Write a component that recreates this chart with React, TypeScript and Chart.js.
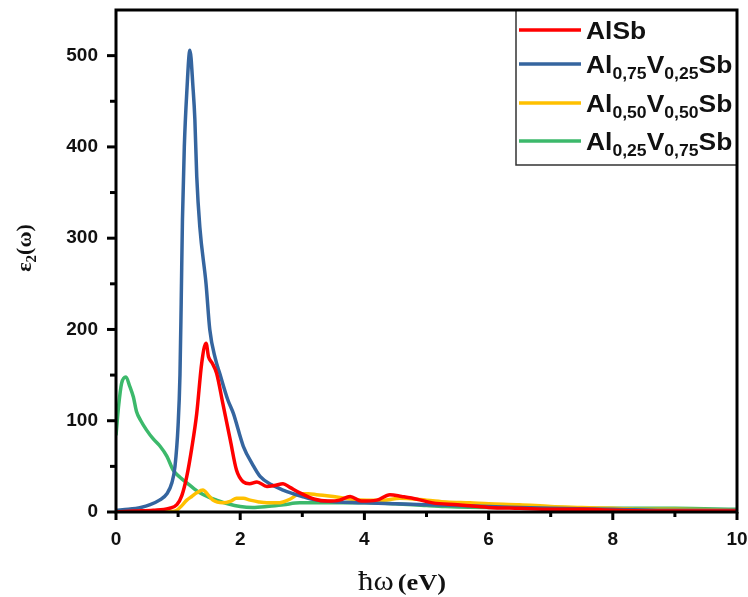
import React, { useEffect, useRef } from "react";
import { Chart, registerables } from "chart.js";

Chart.register(...registerables);

// ---- data ----
const seriesNames = ["AlSb", "Al0.75V0.25Sb", "Al0.50V0.50Sb", "Al0.25V0.75Sb"];

const alsbX = [0, 0.3, 0.6, 0.85, 0.98, 1.06, 1.14, 1.22, 1.3, 1.38, 1.45, 1.49, 1.55, 1.62, 1.72, 1.84, 1.94, 2.05, 2.15, 2.27, 2.43, 2.55, 2.69, 2.8, 2.96, 3.2, 3.4, 3.6, 3.77, 3.95, 4.2, 4.41, 4.6, 4.85, 5.1, 5.5, 6.0, 6.5, 7.0, 7.5, 8.0, 9.0, 10];
const alsbY = [0, 1, 2, 4, 8, 18, 39, 70, 108, 163, 185, 170, 163, 152, 119, 79, 46, 33, 31, 33, 28, 29, 31, 27, 21, 14, 12, 13, 17, 12, 13, 19, 17, 14, 10, 8, 5, 4, 3, 3, 2, 1, 1];

const v25X = [0, 0.2, 0.4, 0.55, 0.7, 0.82, 0.9, 0.95, 1.0, 1.03, 1.05, 1.07, 1.1, 1.14, 1.19, 1.24, 1.27, 1.3, 1.35, 1.45, 1.51, 1.6, 1.67, 1.8, 1.89, 2.05, 2.2, 2.32, 2.5, 2.69, 3.0, 3.23, 3.6, 4.0, 4.5, 5.0, 5.5, 6.0, 7.0, 8.0, 9.0, 10];
const v25Y = [2, 3, 5, 8, 13, 20, 32, 50, 95, 150, 230, 320, 400, 460, 506, 465, 430, 368, 312, 250, 200, 168, 152, 123, 108, 72, 52, 39, 30, 24, 17, 13, 11, 10, 9, 8, 7, 6, 4, 3, 2, 2];

const v50X = [0, 0.5, 0.9, 0.98, 1.06, 1.14, 1.22, 1.3, 1.4, 1.48, 1.56, 1.72, 1.85, 1.94, 2.05, 2.16, 2.3, 2.43, 2.6, 2.69, 2.8, 2.96, 3.1, 3.23, 3.5, 3.8, 4.04, 4.3, 4.57, 5.0, 5.32, 5.7, 6.0, 6.5, 7.0, 7.5, 8.0, 8.5, 9.0, 10];
const v50Y = [0, 0, 0.5, 2, 7, 13, 17, 21, 24, 19, 13, 10, 12, 15, 15, 13, 11, 10, 10, 11, 14, 20, 20, 19, 17, 14, 13, 13, 15, 13, 11, 10, 9, 8, 6, 5, 4, 3, 3, 2];

const v75X = [0, 0.04, 0.09, 0.16, 0.22, 0.28, 0.33, 0.4, 0.49, 0.6, 0.71, 0.82, 0.92, 1.03, 1.14, 1.25, 1.35, 1.5, 1.62, 1.8, 2.0, 2.2, 2.43, 2.7, 2.96, 3.3, 3.6, 4.04, 4.5, 5.0, 5.3, 6.0, 7.0, 8.0, 9.0, 10];
const v75Y = [84, 115, 141, 148, 138, 126, 110, 100, 90, 80, 72, 61, 46, 38, 32, 26, 21, 16, 13, 9, 6, 5, 6, 8, 10, 10, 10, 10, 9, 7, 6, 5, 5, 4, 4, 3];

const xMajorTicks = [0, 2, 4, 6, 8, 10];
const xMinorTicks = [1, 3, 5, 7, 9];
const yMajorTicks = [0, 100, 200, 300, 400, 500];
const yMinorTicks = [50, 150, 250, 350, 450];

const colors = ["#ff0000", "#35659f", "#ffc000", "#3cb96b"];

// legend labels split into [text, isSubscript] pieces
const legendParts: [string, boolean][][] = [
  [["AlSb", false]],
  [["Al", false], ["0,75", true], ["V", false], ["0,25", true], ["Sb", false]],
  [["Al", false], ["0,50", true], ["V", false], ["0,50", true], ["Sb", false]],
  [["Al", false], ["0,25", true], ["V", false], ["0,75", true], ["Sb", false]],
];

function toPoints(xs: number[], ys: number[]) {
  return xs.map((x, i) => ({ x, y: ys[i] }));
}

function drawStretched(ctx: CanvasRenderingContext2D, t: string, x: number, y: number, s: number) {
  ctx.save();
  ctx.translate(x, y);
  ctx.scale(s, 1);
  ctx.fillText(t, 0, 0);
  ctx.restore();
  return ctx.measureText(t).width * s;
}

function noPad(s: any) {
  s.paddingTop = 0;
  s.paddingBottom = 0;
  s.paddingLeft = 0;
  s.paddingRight = 0;
}

const decor = {
  id: "decor",
  afterDatasetsDraw(chart: any) {
    const { ctx, chartArea: a, scales } = chart;
    const xs = scales.x;
    const ys = scales.y;
    ctx.save();
    ctx.strokeStyle = "#000";
    ctx.lineCap = "butt";

    // ticks
    ctx.lineWidth = 3;
    for (const v of xMajorTicks) {
      const px = xs.getPixelForValue(v);
      ctx.beginPath(); ctx.moveTo(px, a.bottom); ctx.lineTo(px, a.bottom + 8); ctx.stroke();
    }
    for (const v of xMinorTicks) {
      const px = xs.getPixelForValue(v);
      ctx.beginPath(); ctx.moveTo(px, a.bottom); ctx.lineTo(px, a.bottom + 5); ctx.stroke();
    }
    for (const v of yMajorTicks) {
      const py = ys.getPixelForValue(v);
      ctx.beginPath(); ctx.moveTo(a.left, py); ctx.lineTo(a.left - 9, py); ctx.stroke();
    }
    for (const v of yMinorTicks) {
      const py = ys.getPixelForValue(v);
      ctx.beginPath(); ctx.moveTo(a.left, py); ctx.lineTo(a.left - 6, py); ctx.stroke();
    }

    // legend box
    const lx = 516, lb = 165;
    ctx.fillStyle = "#fff";
    ctx.fillRect(lx, a.top, a.right - lx, lb - a.top);
    ctx.strokeStyle = "#333";
    ctx.lineWidth = 1.5;
    ctx.beginPath(); ctx.moveTo(lx, a.top); ctx.lineTo(lx, lb); ctx.lineTo(a.right, lb); ctx.stroke();

    const lineYs = [30, 64, 103, 141];
    for (let i = 0; i < seriesNames.length; i++) {
      const ly = lineYs[i];
      ctx.strokeStyle = colors[i];
      ctx.lineWidth = 3.5;
      ctx.beginPath(); ctx.moveTo(519, ly); ctx.lineTo(581, ly); ctx.stroke();
      ctx.fillStyle = "#111";
      ctx.textBaseline = "alphabetic";
      ctx.textAlign = "left";
      let tx = 586;
      for (const [t, sub] of legendParts[i]) {
        ctx.font = sub ? "bold 16px 'Liberation Sans', Arial, sans-serif" : "bold 24px 'Liberation Sans', Arial, sans-serif";
        tx += drawStretched(ctx, t, tx, ly + (sub ? 14.5 : 9), 1.1);
      }
    }

    // frame
    ctx.strokeStyle = "#000";
    ctx.lineWidth = 3;
    ctx.strokeRect(a.left, a.top, a.right - a.left, a.bottom - a.top);

    // y title: ε2(ω)
    ctx.save();
    ctx.translate(24, 248);
    ctx.rotate(-Math.PI / 2);
    ctx.fillStyle = "#111";
    ctx.textAlign = "left";
    ctx.textBaseline = "alphabetic";
    const fMain = "bold 22px 'Liberation Serif', 'Times New Roman', serif";
    const fSub = "bold 15px 'Liberation Serif', 'Times New Roman', serif";
    ctx.font = fMain; const w1 = ctx.measureText("\u03b5").width;
    ctx.font = fSub; const w2 = ctx.measureText("2").width;
    ctx.font = fMain; const w3 = ctx.measureText("(\u03c9)").width;
    let sx = -(w1 + w2 + w3) / 2;
    ctx.font = fMain; ctx.fillText("\u03b5", sx, 7); sx += w1;
    ctx.font = fSub; ctx.fillText("2", sx, 12); sx += w2;
    ctx.font = fMain; ctx.fillText("(\u03c9)", sx, 7);
    ctx.restore();

    // x title: ħω (eV)
    ctx.fillStyle = "#111";
    ctx.textAlign = "left";
    ctx.textBaseline = "alphabetic";
    let xx = 358;
    ctx.font = "28px 'Liberation Serif', 'Times New Roman', serif";
    xx += drawStretched(ctx, "\u0127\u03c9", xx, 590, 1.1);
    xx += 4;
    ctx.font = "bold 24px 'Liberation Serif', 'Times New Roman', serif";
    drawStretched(ctx, "(eV)", xx, 590, 1.1);

    ctx.restore();
  },
};

export default function App() {
  const ref = useRef<HTMLCanvasElement | null>(null);
  useEffect(() => {
    document.body.style.margin = "0";
    const canvas = ref.current;
    if (!canvas) return;
    const datasets = [
      [alsbX, alsbY],
      [v25X, v25Y],
      [v50X, v50Y],
      [v75X, v75Y],
    ].map(([xs, ys], i) => ({
      label: seriesNames[i],
      data: toPoints(xs as number[], ys as number[]),
      borderColor: colors[i],
      backgroundColor: colors[i],
      borderWidth: 3.5,
      pointRadius: 0,
      cubicInterpolationMode: "monotone" as const,
      fill: false,
    }));
    const tickFont = { family: "'Liberation Sans', Arial, sans-serif", size: 19, weight: "bold" as const };
    const chart = new Chart(canvas, {
      type: "line",
      data: { datasets },
      plugins: [decor],
      options: {
        animation: false,
        responsive: false,
        devicePixelRatio: 1,
        layout: { padding: { top: 10, right: 11, left: 0, bottom: 0 } },
        plugins: { legend: { display: false }, tooltip: { enabled: false } },
        scales: {
          x: {
            type: "linear",
            min: 0,
            max: 10,
            grid: { display: false, drawTicks: false },
            border: { display: false },
            ticks: { stepSize: 2, color: "#111", font: tickFont, padding: 16, maxRotation: 0 },
            afterFit: (s: any) => { s.height = 85; noPad(s); },
          },
          y: {
            type: "linear",
            min: 0,
            max: 550,
            grid: { display: false, drawTicks: false },
            border: { display: false },
            ticks: { stepSize: 100, color: "#111", font: tickFont, padding: 18 },
            afterBuildTicks: (s: any) => { s.ticks = s.ticks.filter((t: any) => t.value % 100 === 0); },
            afterFit: (s: any) => { s.width = 116; noPad(s); },
          },
        },
      },
    });
    return () => chart.destroy();
  }, []);
  return <canvas ref={ref} width={748} height={597} style={{ display: "block", width: 748, height: 597 }} />;
}
